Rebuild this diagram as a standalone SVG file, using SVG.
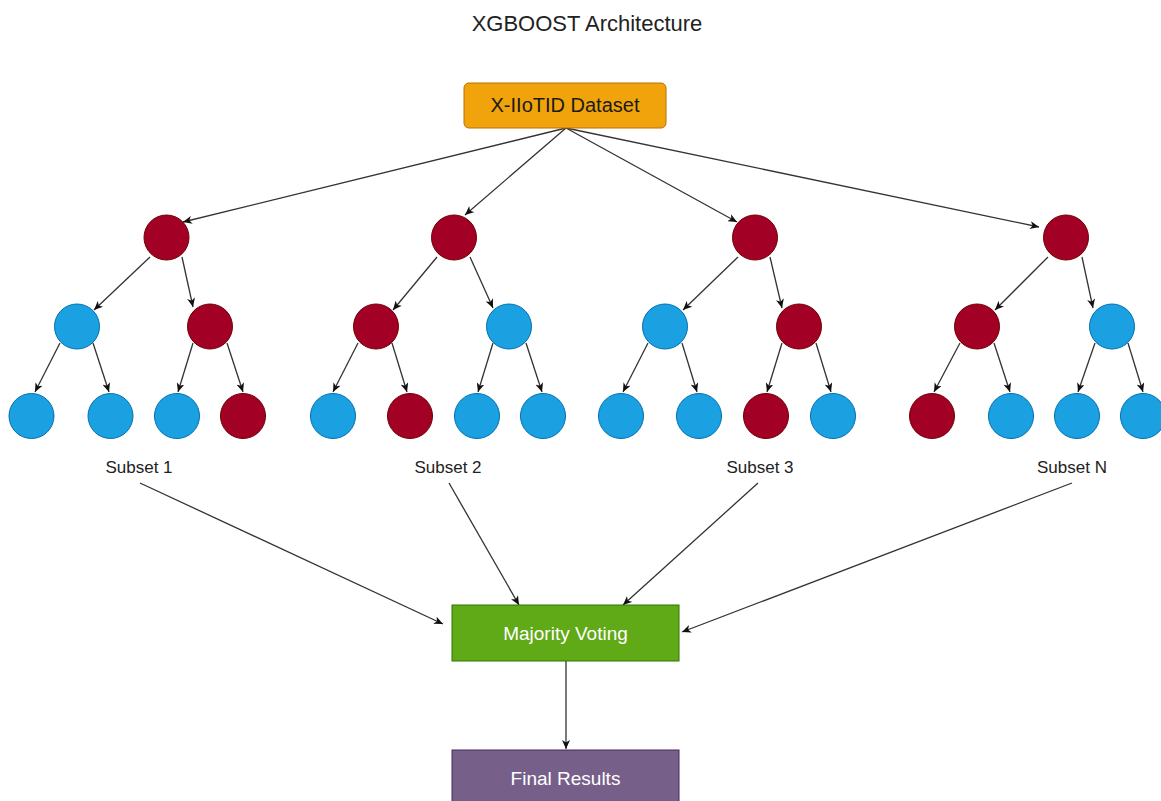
<svg xmlns="http://www.w3.org/2000/svg" width="1161" height="801" viewBox="0 0 1161 801">
<style>
  .txt { font-family: "Liberation Sans", Arial, Helvetica, sans-serif; }
  .red { fill: #A20025; stroke: #6F0000; stroke-width: 1; }
  .blue { fill: #1BA1E2; stroke: #006EAF; stroke-width: 1; }
  .edge { stroke: #333333; stroke-width: 1.3; fill: none; marker-end: url(#arrow); }
</style>
<defs>
  <marker id="arrow" markerUnits="userSpaceOnUse" markerWidth="10" markerHeight="8" refX="9" refY="4" orient="auto">
    <path d="M0,0 L9,4 L0,8 L2.5,4 Z" fill="#111111"/>
  </marker>
</defs>
<rect width="1161" height="801" fill="#ffffff"/>
<text class="txt" x="587" y="31" font-size="22" text-anchor="middle" fill="#222222">XGBOOST Architecture</text>

<g id="connectors">
  <!-- dataset to roots -->
  <line class="edge" x1="566" y1="128" x2="183" y2="222"/>
  <line class="edge" x1="566" y1="128" x2="465" y2="215"/>
  <line class="edge" x1="566" y1="128" x2="737" y2="222"/>
  <line class="edge" x1="566" y1="128" x2="1039" y2="227"/>
  <!-- tree 1 -->
  <line class="edge" x1="150" y1="257" x2="94" y2="310"/>
  <line class="edge" x1="182" y1="257" x2="193" y2="307"/>
  <line class="edge" x1="60" y1="343" x2="35" y2="392"/>
  <line class="edge" x1="93" y1="343" x2="109" y2="392"/>
  <line class="edge" x1="193" y1="343" x2="178" y2="392"/>
  <line class="edge" x1="227" y1="343" x2="243" y2="392"/>
  <!-- tree 2 -->
  <line class="edge" x1="437" y1="257" x2="393" y2="310"/>
  <line class="edge" x1="470" y1="257" x2="493" y2="308"/>
  <line class="edge" x1="358" y1="343" x2="333" y2="392"/>
  <line class="edge" x1="392" y1="343" x2="407" y2="392"/>
  <line class="edge" x1="493" y1="343" x2="478" y2="392"/>
  <line class="edge" x1="526" y1="343" x2="542" y2="392"/>
  <!-- tree 3 -->
  <line class="edge" x1="738" y1="257" x2="683" y2="310"/>
  <line class="edge" x1="770" y1="257" x2="782" y2="308"/>
  <line class="edge" x1="648" y1="343" x2="623" y2="392"/>
  <line class="edge" x1="682" y1="343" x2="697" y2="392"/>
  <line class="edge" x1="782" y1="343" x2="767" y2="392"/>
  <line class="edge" x1="816" y1="343" x2="831" y2="392"/>
  <!-- tree N -->
  <line class="edge" x1="1048" y1="257" x2="995" y2="310"/>
  <line class="edge" x1="1082" y1="257" x2="1093" y2="308"/>
  <line class="edge" x1="960" y1="343" x2="934" y2="392"/>
  <line class="edge" x1="994" y1="343" x2="1010" y2="392"/>
  <line class="edge" x1="1095" y1="343" x2="1078" y2="392"/>
  <line class="edge" x1="1128" y1="343" x2="1143" y2="392"/>
  <!-- subsets to voting -->
  <line class="edge" x1="140" y1="483" x2="443" y2="624"/>
  <line class="edge" x1="449" y1="483" x2="519" y2="605"/>
  <line class="edge" x1="758" y1="483" x2="623" y2="605"/>
  <line class="edge" x1="1072" y1="483" x2="682" y2="632"/>
  <!-- voting to results -->
  <line class="edge" x1="566" y1="661" x2="566" y2="749"/>
</g>

<g id="dataset">
  <rect x="464" y="83" width="202" height="45" rx="5" fill="#F0A30A" stroke="#BD7000" stroke-width="1"/>
  <text class="txt" x="565" y="112" font-size="20" text-anchor="middle" fill="#1a1a1a">X-IIoTID Dataset</text>
</g>

<!-- Tree 1 -->
<g id="t1-root"><circle class="red" cx="166.5" cy="237.5" r="22.5"/></g>
<g id="t1-l"><circle class="blue" cx="77" cy="326.5" r="22.5"/></g>
<g id="t1-r"><circle class="red" cx="210" cy="326.5" r="22.5"/></g>
<g id="t1-ll"><circle class="blue" cx="31.5" cy="416" r="22.5"/></g>
<g id="t1-lr"><circle class="blue" cx="110.5" cy="416" r="22.5"/></g>
<g id="t1-rl"><circle class="blue" cx="177" cy="416" r="22.5"/></g>
<g id="t1-rr"><circle class="red" cx="243" cy="416" r="22.5"/></g>

<!-- Tree 2 -->
<g id="t2-root"><circle class="red" cx="454" cy="237.5" r="22.5"/></g>
<g id="t2-l"><circle class="red" cx="376" cy="326.5" r="22.5"/></g>
<g id="t2-r"><circle class="blue" cx="509" cy="326.5" r="22.5"/></g>
<g id="t2-ll"><circle class="blue" cx="333" cy="416" r="22.5"/></g>
<g id="t2-lr"><circle class="red" cx="410" cy="416" r="22.5"/></g>
<g id="t2-rl"><circle class="blue" cx="477" cy="416" r="22.5"/></g>
<g id="t2-rr"><circle class="blue" cx="543" cy="416" r="22.5"/></g>

<!-- Tree 3 -->
<g id="t3-root"><circle class="red" cx="755" cy="237.5" r="22.5"/></g>
<g id="t3-l"><circle class="blue" cx="665" cy="326.5" r="22.5"/></g>
<g id="t3-r"><circle class="red" cx="799" cy="326.5" r="22.5"/></g>
<g id="t3-ll"><circle class="blue" cx="621" cy="416" r="22.5"/></g>
<g id="t3-lr"><circle class="blue" cx="699" cy="416" r="22.5"/></g>
<g id="t3-rl"><circle class="red" cx="766" cy="416" r="22.5"/></g>
<g id="t3-rr"><circle class="blue" cx="833" cy="416" r="22.5"/></g>

<!-- Tree N -->
<g id="tN-root"><circle class="red" cx="1066" cy="237.5" r="22.5"/></g>
<g id="tN-l"><circle class="red" cx="977" cy="326.5" r="22.5"/></g>
<g id="tN-r"><circle class="blue" cx="1112" cy="326.5" r="22.5"/></g>
<g id="tN-ll"><circle class="red" cx="932" cy="416" r="22.5"/></g>
<g id="tN-lr"><circle class="blue" cx="1011" cy="416" r="22.5"/></g>
<g id="tN-rl"><circle class="blue" cx="1077" cy="416" r="22.5"/></g>
<g id="tN-rr"><circle class="blue" cx="1143" cy="416" r="22.5"/></g>

<g id="subset1"><text class="txt" x="139" y="473" font-size="17" text-anchor="middle" fill="#222222">Subset 1</text></g>
<g id="subset2"><text class="txt" x="448" y="473" font-size="17" text-anchor="middle" fill="#222222">Subset 2</text></g>
<g id="subset3"><text class="txt" x="760" y="473" font-size="17" text-anchor="middle" fill="#222222">Subset 3</text></g>
<g id="subsetN"><text class="txt" x="1072" y="473" font-size="17" text-anchor="middle" fill="#222222">Subset N</text></g>

<g id="voting">
  <rect x="452" y="605" width="227" height="56" fill="#60A917" stroke="#2D7600" stroke-width="1"/>
  <text class="txt" x="565.5" y="640" font-size="19" text-anchor="middle" fill="#ffffff">Majority Voting</text>
</g>

<g id="results">
  <rect x="452" y="750" width="227" height="60" fill="#76608A" stroke="#432D57" stroke-width="1"/>
  <text class="txt" x="565.5" y="785" font-size="19" text-anchor="middle" fill="#ffffff">Final Results</text>
</g>
</svg>
